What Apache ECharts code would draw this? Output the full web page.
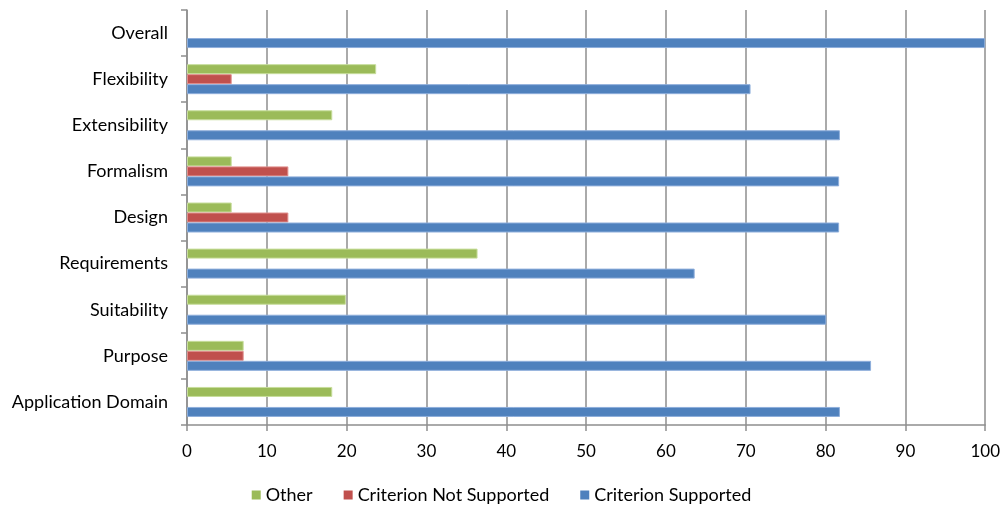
<!DOCTYPE html>
<html>
<head>
<meta charset="utf-8">
<script src="https://cdn.jsdelivr.net/npm/echarts@6/dist/echarts.min.js"></script>
<style>
  html, body { margin: 0; padding: 0; background: #fff; }
  #chart { width: 1003px; height: 506px; }
</style>
</head>
<body>
<div id="chart"></div>
<script>
// Criteria listed bottom-to-top along the category axis
const categories = ['Application Domain', 'Purpose', 'Suitability', 'Requirements', 'Design', 'Formalism', 'Extensibility', 'Flexibility', 'Overall'];
const otherValues = [18.2, 7.1, 19.9, 36.4, 5.6, 5.6, 18.2, 23.7, 0];
const notSupportedValues = [0, 7.1, 0, 0, 12.7, 12.7, 0, 5.6, 0];
const supportedValues = [81.8, 85.7, 80.1, 63.6, 81.7, 81.7, 81.8, 70.6, 100];
const xTicks = { min: 0, max: 100, interval: 10 };

const fontFamily = 'Lato, "Open Sans", sans-serif';
const gridGray = '#8e8e8e';

// Zero shares are simply not drawn
function barSeries(name, data, color, border) {
  return {
    name: name,
    type: 'bar',
    data: data.map(v => (v === 0 ? '-' : v)),
    barWidth: 10,
    barGap: '0%',
    itemStyle: { color: color, borderColor: border, borderWidth: 1 },
    emphasis: { disabled: true }
  };
}

const chart = echarts.init(document.getElementById('chart'), null, { renderer: 'canvas' });
chart.setOption({
  animation: false,
  backgroundColor: '#ffffff',
  grid: { left: 187, right: 15, top: 10, bottom: 81, containLabel: false },
  legend: {
    top: 481,
    left: 'center',
    itemWidth: 9,
    itemHeight: 9,
    itemGap: 31,
    icon: 'rect',
    data: [
      { name: 'Other', itemStyle: { borderWidth: 0 } },
      { name: 'Criterion Not Supported', itemStyle: { borderWidth: 0 } },
      { name: 'Criterion Supported', itemStyle: { borderWidth: 0 } }
    ],
    textStyle: { fontFamily: fontFamily, fontSize: 18, color: '#000' }
  },
  xAxis: {
    type: 'value',
    min: xTicks.min,
    max: xTicks.max,
    interval: xTicks.interval,
    axisLine: { show: true, lineStyle: { color: gridGray, width: 1.5 } },
    axisTick: { show: true, length: 6, lineStyle: { color: gridGray, width: 1.5 } },
    splitLine: { show: true, lineStyle: { color: gridGray, width: 1.5 } },
    axisLabel: { fontFamily: fontFamily, fontSize: 17, color: '#000', margin: 18 }
  },
  yAxis: {
    type: 'category',
    data: categories,
    axisLine: { show: true, lineStyle: { color: gridGray, width: 1.5 } },
    axisTick: { show: true, length: 6, lineStyle: { color: gridGray, width: 1.5 } },
    axisLabel: { fontFamily: fontFamily, fontSize: 18, color: '#000', margin: 19 }
  },
  series: [
    barSeries('Other', otherValues, '#9bbb59', '#c7dd9c'),
    barSeries('Criterion Not Supported', notSupportedValues, '#c0504d', '#e08f8d'),
    barSeries('Criterion Supported', supportedValues, '#4f81bd', '#8eaedb')
  ]
});
</script>
</body>
</html>
